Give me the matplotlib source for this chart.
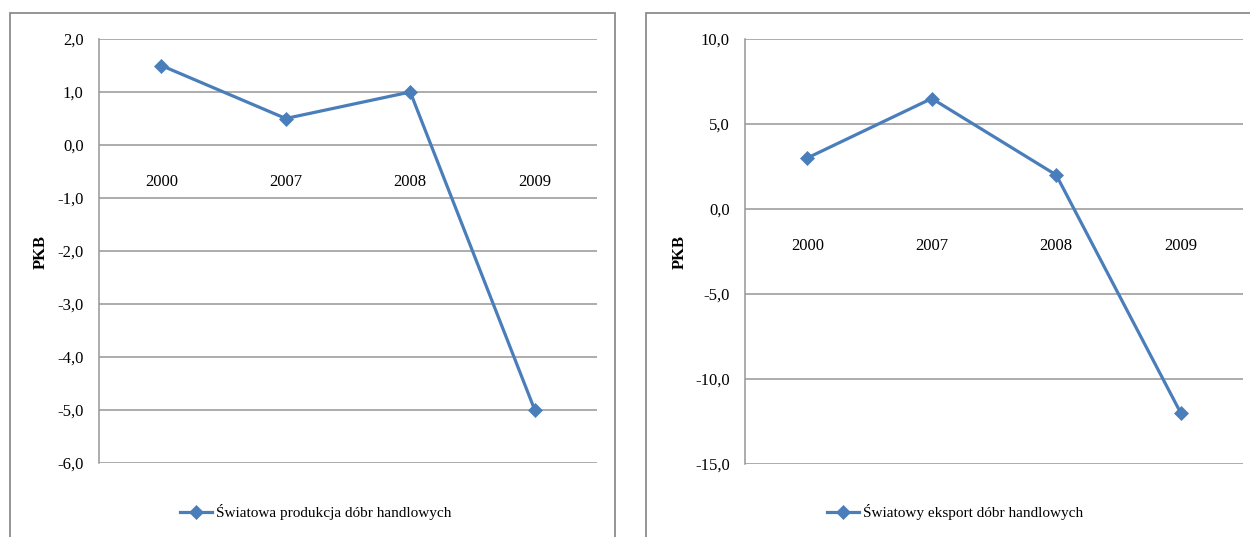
import matplotlib
matplotlib.use("Agg")
import matplotlib.pyplot as plt
from matplotlib.patches import Rectangle
from matplotlib.ticker import FixedLocator, FuncFormatter

categories = ["2000", "2007", "2008", "2009"]
production = [1.5, 0.5, 1.0, -5.0]
export = [3.0, 6.5, 2.0, -12.0]
left_ticks = [2, 1, 0, -1, -2, -3, -4, -5, -6]
right_ticks = [10, 5, 0, -5, -10, -15]
ylabel = "PKB"
label_prod = "Światowa produkcja dóbr handlowych"
label_exp = "Światowy eksport dóbr handlowych"

LINE = "#4A7EBB"
GRID = "#969696"
FONT = "Liberation Serif"
plt.rcParams["font.family"] = [FONT, "DejaVu Serif"]

W, H = 1250, 537
fig = plt.figure(figsize=(W / 100, H / 100), dpi=100)


def fx(px):
    return px / W


def fy(py):
    return 1 - py / H


# panel borders
for x0, x1 in [(9.5, 615), (645.5, 1260)]:
    fig.patches.append(Rectangle((fx(x0), fy(545)), fx(x1 - x0), (545 - 13) / H,
                                 transform=fig.transFigure, fill=False,
                                 edgecolor="#8C8C8C", linewidth=1.3, zorder=0))


def fmt(v, pos):
    return f"{v:.1f}".replace(".", ",")


def make(axrect, values, ticks, label, legend_x, ylabel_x):
    ax = fig.add_axes(axrect)
    x = list(range(len(categories)))
    ax.plot(x, values, color=LINE, linewidth=2.3, marker="D", markersize=7,
            markeredgewidth=0.5, markeredgecolor=LINE, label=label, zorder=3,
            clip_on=False)
    ax.set_xlim(-0.5, len(categories) - 0.5)
    ax.set_ylim(min(ticks), max(ticks))
    ax.yaxis.set_major_locator(FixedLocator(ticks))
    ax.yaxis.set_major_formatter(FuncFormatter(fmt))
    ax.set_xticks(x)
    ax.set_xticklabels(categories)
    for s in ["top", "right"]:
        ax.spines[s].set_visible(False)
    ax.spines["bottom"].set_position(("data", 0))
    ax.spines["bottom"].set_color("none")
    ax.spines["left"].set_color(GRID)
    ax.spines["left"].set_linewidth(1.1)
    ax.grid(axis="y", color=GRID, linewidth=1.1)
    ax.set_axisbelow(True)
    ax.tick_params(axis="x", length=0, pad=21, labelsize=12)
    ax.tick_params(axis="y", length=0, pad=11, labelsize=12)
    fig.text(fx(ylabel_x), fy(252), ylabel, rotation=90, ha="center", va="center",
             fontsize=12, fontweight="bold")
    fig.legend(handles=ax.get_lines(), labels=[label], loc="center left",
               bbox_to_anchor=(fx(legend_x), fy(512)), frameon=False,
               borderpad=0, borderaxespad=0, handlelength=2.1, handletextpad=0.25,
               fontsize=11)
    return ax


make([fx(99), fy(463), fx(498), (463 - 39) / H], production, left_ticks,
     label_prod, 180, 41)
make([fx(745), fy(464), fx(498), (464 - 39) / H], export, right_ticks,
     label_exp, 827, 680)

fig.savefig("out.png", dpi=100)
